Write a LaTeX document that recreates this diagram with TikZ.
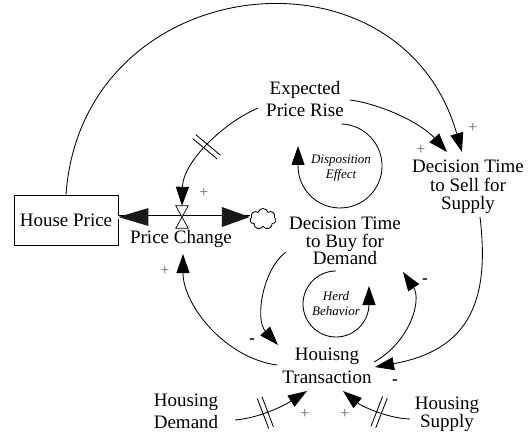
\documentclass[tikz,border=0pt]{standalone}
\usepackage{fontspec}
\setmainfont{Liberation Serif}
\usetikzlibrary{arrows.meta,decorations.markings,shapes.symbols}
\begin{document}
\begin{tikzpicture}[x=1pt,y=-1pt,
  lbl/.style={align=center, inner sep=0pt, font=\fontsize{19}{19}\selectfont},
  lnk/.style={line width=0.85pt, -{Triangle[length=19pt,width=13pt]}},
  pol/.style={text=black!60, inner sep=0pt, font=\fontsize{16}{16}\selectfont},
  neg/.style={inner sep=0pt, font=\fontsize{17}{17}\selectfont\bfseries},
  loopt/.style={align=center, inner sep=0pt, font=\fontsize{13}{15}\selectfont\itshape},
  delaymark/.style={postaction={decorate, decoration={markings, mark=at position #1 with {\draw[-, line width=0.85pt] (-2.5pt,-16pt)--(-2.5pt,16pt) (2.5pt,-16pt)--(2.5pt,16pt);}}}},
]
\useasboundingbox[fill=white] (0,0) rectangle (532,437);

% nodes
\node[draw, line width=0.85pt, minimum width=104pt, minimum height=50pt, inner sep=0pt, font=\fontsize{19}{19}\selectfont] (hp) at (66,220) {House Price};
\node[minimum width=12pt, minimum height=22pt, inner sep=0pt] (v) at (182,217) {};
\node[cloud, cloud puffs=7, draw, line width=0.85pt, minimum width=26pt, minimum height=21pt, inner sep=0pt] (cl) at (263,219) {};
\node[lbl] (pc) at (181,239) {Price Change};
\node[lbl, font=\fontsize{19}{22}\selectfont] (epr) at (305,99) {Expected\\Price Rise};
\node[lbl, font=\fontsize{19}{18.5}\selectfont] (dts) at (468,187) {Decision Time\\to Sell for\\Supply};
\node[lbl, font=\fontsize{19}{17.5}\selectfont] (dtb) at (345,241) {Decision Time\\to Buy for\\Demand};
\node[lbl, font=\fontsize{19}{23}\selectfont] (ht) at (327,366) {Houisng\\Transaction};
\node[lbl, font=\fontsize{19}{22}\selectfont] (hd) at (186,411) {Housing\\Demand};
\node[lbl, font=\fontsize{19}{18}\selectfont] (hs) at (447,414) {Housing\\Supply};
\node[loopt] (dis) at (341,168) {Disposition\\Effect};
\node[loopt] (herd) at (336,304) {Herd\\Behavior};

% flow pipe
\draw[line width=0.85pt, double, double distance=3pt] (hp.east |- v.center) -- (cl.west |- v.center);
\fill[black!90] (hp.east |- v.center) -- ++(30,-9) -- ++(0,18) -- cycle;
\fill[black!90] (cl.west |- v.center) -- ++(-28,-10) -- ++(0,20) -- cycle;
\draw[fill=white, line width=0.7pt] (v.north west) -- (v.north east) -- (v.center) -- cycle
  (v.south west) -- (v.south east) -- (v.center) -- cycle;

% links
\draw[lnk] (hp.north) .. controls (82,-30) and (400,-65) .. ([shift={(-6,-35)}]dts.center);
\draw[lnk] ([shift={(45,1)}]epr.center) .. controls (380,104) and (420,122) .. ([shift={(-21,-35)}]dts.center);
\draw[lnk, delaymark=0.5] ([shift={(-47,9)}]epr.center) .. controls (223,123) and (183,162) .. (v.north);
\draw[lnk] ([shift={(-50,-1)}]ht.center) .. controls (225,358) and (183,305) .. ([shift={(2,15)}]pc.center);
\draw[lnk] ([shift={(-59,11)}]dtb.center) .. controls (262,270) and (255,320) .. ([shift={(-49,-21)}]ht.center);
\draw[lnk] ([shift={(47,-4)}]ht.center) .. controls (410,342) and (422,300) .. ([shift={(58,31)}]dtb.center);
\draw[lnk] ([shift={(12,30)}]dts.center) .. controls (490,300) and (470,350) .. ([shift={(48,1)}]ht.center);
\draw[lnk, delaymark=0.4] ([shift={(49,9)}]hd.center) .. controls (260,418) and (285,405) .. ([shift={(-20,25)}]ht.center);
\draw[lnk, delaymark=0.43] ([shift={(-37,5)}]hs.center) .. controls (385,418) and (360,405) .. ([shift={(16,25)}]ht.center);

% loops
\draw[lnk] ([shift={(0.5,-44)}]dis.center) arc[start angle=-88, end angle=180, radius=42] -- ++(0,-20);
\draw[lnk] ([shift={(0,-33)}]herd.center) arc[start angle=-90, end angle=-360, radius=33] -- ++(0,-18);

% polarities
\node[pol] (p1) at (473,128) {+};
\node[pol] (p2) at (421,150) {+};
\node[pol] (p3) at (204,193) {+};
\node[pol] (p4) at (165,271) {+};
\node[neg] (p5) at (252,341) {-};
\node[neg] (p6) at (425,281) {-};
\node[neg] (p7) at (395,382) {-};
\node[pol] (p8) at (305,414) {+};
\node[pol] (p9) at (345,414) {+};
\end{tikzpicture}
\end{document}
